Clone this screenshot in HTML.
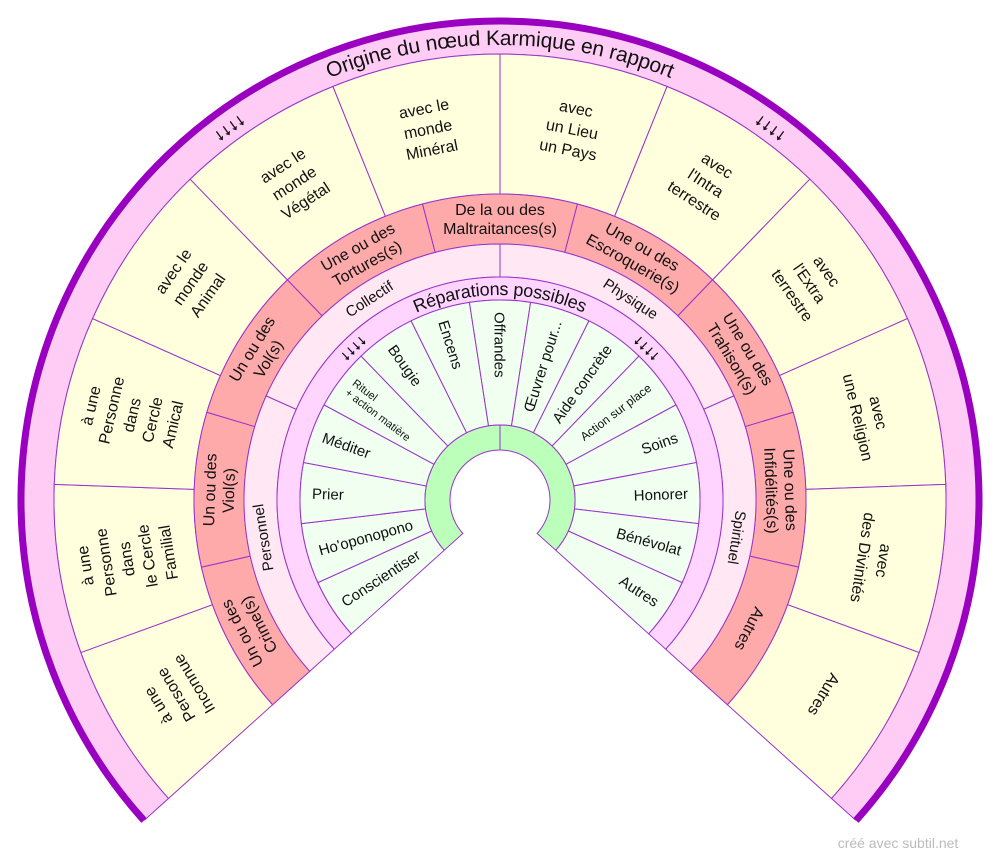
<!DOCTYPE html>
<html><head><meta charset="utf-8">
<style>
html,body{margin:0;padding:0;background:#fff;}
svg{display:block;font-family:"Liberation Sans",Arial,sans-serif;}
svg text{font-family:"Liberation Sans",Arial,sans-serif;}
</style></head>
<body>
<svg id="s" width="1000" height="860" viewBox="0 0 1000 860" xmlns="http://www.w3.org/2000/svg" font-family="Liberation Sans, Arial, sans-serif">
<defs>
<path id="tOuter" d="M 38 500 A 462 462 0 0 1 962 500"/>
<path id="tRep" d="M 289 500 A 211 211 0 0 1 711 500"/>
</defs>
<g id="g"></g>
<text x="898" y="848" font-size="14" fill="#bbbbbb" text-anchor="middle" font-family="Liberation Sans, sans-serif">créé avec subtil.net</text>
</svg>
<script>
var NS="http://www.w3.org/2000/svg",g=document.getElementById('g');
var cx=500,cy=500,A0=-132,A1=132,LC="#9933cc",FF="Liberation Sans, Arial, sans-serif";
function P(r,a){a=a*Math.PI/180;return [cx+r*Math.sin(a),cy-r*Math.cos(a)];}
function sector(r0,r1,a0,a1,fill,sw){
 var p1=P(r1,a0),p2=P(r1,a1),p3=P(r0,a1),p4=P(r0,a0),l=(a1-a0)>180?1:0;
 var d="M"+p1+" A"+r1+" "+r1+" 0 "+l+" 1 "+p2+" L"+p3+" A"+r0+" "+r0+" 0 "+l+" 0 "+p4+" Z";
 var e=document.createElementNS(NS,'path');e.setAttribute('d',d);e.setAttribute('fill',fill);
 e.setAttribute('stroke',LC);e.setAttribute('stroke-width',sw||1);g.appendChild(e);}
function txt(lines,x,y,rot,fs,lh,anchor,extra){
 var t=document.createElementNS(NS,'text');
 t.setAttribute('transform','translate('+x+','+y+') rotate('+rot+')');
 t.setAttribute('font-family',FF);
 t.setAttribute('font-size',fs);t.setAttribute('text-anchor',anchor||'middle');t.setAttribute('fill','#111');
 if(extra)for(var k in extra)t.setAttribute(k,extra[k]);
 var n=lines.length;
 for(var i=0;i<n;i++){var s=document.createElementNS(NS,'tspan');s.setAttribute('x',0);
  s.setAttribute('y',((i-(n-1)/2)*lh+fs*0.35).toFixed(1));s.textContent=lines[i];t.appendChild(s);}
 g.appendChild(t);}
function ring(r0,r1,items,fill,tr,fs,lh){
 var n=items.length,w=(A1-A0)/n;
 for(var i=0;i<n;i++){sector(r0,r1,A0+i*w,A0+(i+1)*w,fill);}
 for(var i=0;i<n;i++){var a=A0+(i+.5)*w,p=P(tr,a);txt(items[i].split('|'),p[0],p[1],a,fs,lh);}
}
sector(446,478,A0,A1,"#ffccf5");
(function(){var p1=P(479,A0),p2=P(479,A1);var e=document.createElementNS(NS,'path');
 e.setAttribute('d',"M"+p1+" A479 479 0 1 1 "+p2);e.setAttribute('fill','none');e.setAttribute('stroke','#9900c0');e.setAttribute('stroke-width',7);g.appendChild(e);})();
ring(306,446,["à une|Persone|Inconnue","à une|Personne|dans|le Cercle|Familial","à une|Personne|dans|Cercle|Amical","avec le|monde|Animal","avec le|monde|Végétal","avec le|monde|Minéral","avec|un Lieu|un Pays","avec|l'Intra|terrestre","avec|l'Extra|terrestre","avec|une Religion","avec|des Divinités","Autres"],"#ffffdd",378,16,21);
ring(256,306,["Un ou des|Crime(s)","Un ou des|Viol(s)","Un ou des|Vol(s)","Une ou des|Tortures(s)","De la ou des|Maltraitances(s)","Une ou des|Escroquerie(s)","Une ou des|Trahison(s)","Une ou des|Infidélités(s)","Autres"],"#ffaaaa",281,16,19);
ring(223,256,["Personnel","Collectif","Physique","Spirituel"],"#ffe8f3",240,15,18);
sector(200,223,A0,A1,"#ffd5ff");
var gi=["Conscientiser","Ho'oponopono","Prier","Méditer","Rituel|+ action matière","Bougie","Encens","Offrandes","Œuvrer pour...","Aide concrète","Action sur place","Soins","Honorer","Bénévolat","Autres"];
var n=gi.length,w=(A1-A0)/n;
for(var i=0;i<n;i++)sector(75,200,A0+i*w,A0+(i+1)*w,"#f0fff0");
for(var i=0;i<n;i++){var a=A0+(i+.5)*w,inward=i<=7;
 var fs=15,lines=gi[i].split('|');
 if(lines.length>1){var p=P(188,a);txt(lines,p[0],p[1],a+90,11,12,'start');continue;}
 if(gi[i]=="Action sur place")fs=12;
 var p=P(188,a);txt(lines,p[0],p[1],inward?a+90:a-90,fs,16,inward?'start':'end');}
sector(50,75,A0,0,"#bbffbb");sector(50,75,0,A1,"#bbffbb");
[[-36,461,17],[36,461,17],[-44,212,15],[44,212,15]].forEach(function(v){var p=P(v[1],v[0]);
 txt(["↓↓↓↓"],p[0],p[1],v[0],v[2],10,'middle',{'font-weight':'bold','stroke':'#111','stroke-width':'0.6'});});
function tp(id,s,fs){var t=document.createElementNS(NS,'text');t.setAttribute('font-size',fs);t.setAttribute('fill','#111');
 t.setAttribute('font-family',FF);
 t.setAttribute('dominant-baseline','central');
 var q=document.createElementNS(NS,'textPath');q.setAttribute('href','#'+id);q.setAttributeNS('http://www.w3.org/1999/xlink','xlink:href','#'+id);
 q.setAttribute('startOffset','50%');q.setAttribute('text-anchor','middle');q.textContent=s;t.appendChild(q);g.appendChild(t);}
tp('tOuter',"Origine du nœud Karmique en rapport",21);
tp('tRep',"Réparations possibles",18);
</script>
</body></html>
